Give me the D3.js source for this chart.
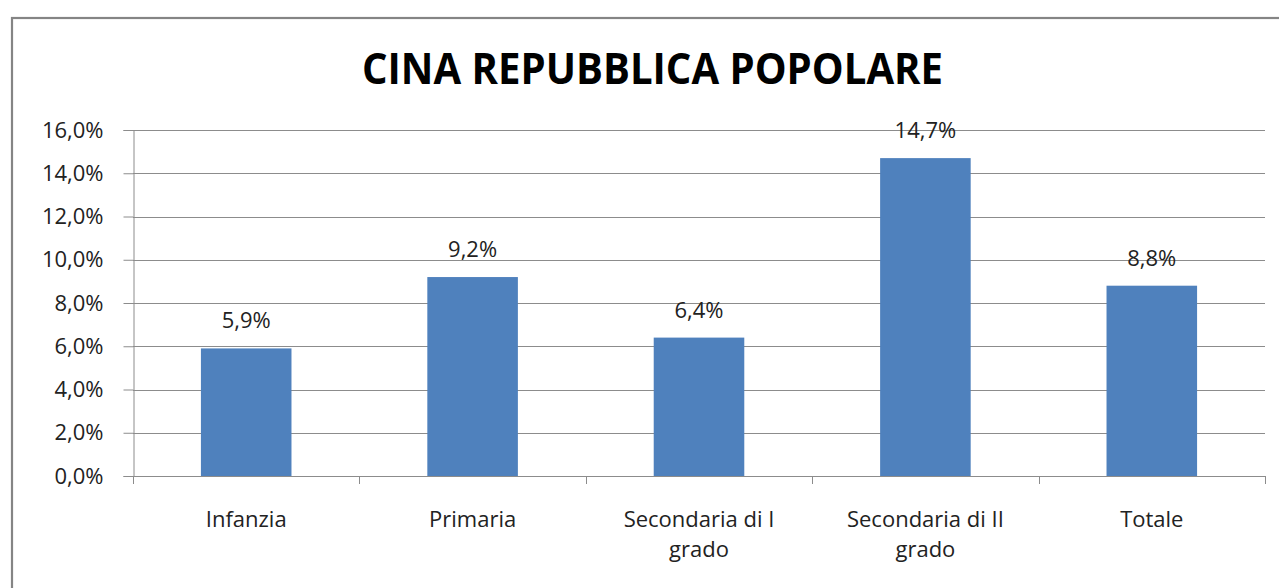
<!DOCTYPE html>
<html>
<head>
<meta charset="utf-8">
<script src="https://cdn.jsdelivr.net/npm/d3@7"></script>
<style>
    body { margin: 0; background: #fff; }
    svg { display: block; font-family: "Open Sans", "Liberation Sans", sans-serif; }
</style>
</head>
<body>
<div id="chart"></div>
<script>
// Data
var categories = ["Infanzia", "Primaria", "Secondaria di I grado", "Secondaria di II grado", "Totale"];
var values = [5.9, 9.2, 6.4, 14.7, 8.8];
var yTicks = [0, 2, 4, 6, 8, 10, 12, 14, 16];
var title = "CINA REPUBBLICA POPOLARE";

// Sizing
var width = 1279;
var height = 588;
var plot = { left: 133, right: 1265, top: 130, bottom: 476 };
var labelSize = 22;

var svg = d3.select("#chart")
    .append("svg")
    .attr("width", width)
    .attr("height", height);

// Chart frame (runs off the right and bottom edges)
svg.append("rect")
    .attr("x", 12)
    .attr("y", 18)
    .attr("width", 1320)
    .attr("height", 700)
    .attr("fill", "#fff")
    .attr("stroke", "#858585")
    .attr("stroke-width", 2.2);

// Title
svg.append("text")
    .attr("x", 362)
    .attr("y", 84)
    .attr("textLength", 581)
    .attr("lengthAdjust", "spacingAndGlyphs")
    .attr("font-size", 43)
    .attr("font-weight", "bold")
    .attr("fill", "#000")
    .text(title);

// Scales
var y = d3.scaleLinear()
    .domain([0, 16])
    .range([plot.bottom, plot.top]);

var xCat = d3.scaleBand()
    .domain(categories)
    .range([plot.left, plot.right])
    .padding(0);

var xBar = d3.scaleBand()
    .domain(categories)
    .range([plot.left, plot.right])
    .paddingInner(0.6)
    .paddingOuter(0.3);

var fmt = d => d.toFixed(1).replace(".", ",") + "%";

// Gridlines
svg.append("g")
    .selectAll("line")
    .data(yTicks)
    .enter()
    .append("line")
    .attr("x1", plot.left)
    .attr("x2", plot.right)
    .attr("y1", d => Math.round(y(d)) + 0.5)
    .attr("y2", d => Math.round(y(d)) + 0.5)
    .attr("stroke", "#8c8c8c")
    .attr("stroke-width", 1);

// Y axis
var yAxis = svg.append("g")
    .attr("transform", `translate(${plot.left + 0.5},0)`)
    .call(d3.axisLeft(y).tickValues(yTicks).tickFormat(fmt).tickSize(10).tickPadding(20));
yAxis.select(".domain").attr("stroke", "#8c8c8c");
yAxis.selectAll(".tick line").attr("stroke", "#8c8c8c");
yAxis.selectAll(".tick text")
    .attr("font-size", labelSize)
    .attr("font-family", "'Open Sans', sans-serif")
    .attr("fill", "#222");

// X axis ticks at category boundaries
var bounds = categories.map(c => xCat(c)).concat([plot.right]);
svg.append("g")
    .selectAll("line")
    .data(bounds)
    .enter()
    .append("line")
    .attr("x1", d => Math.round(d) + 0.5)
    .attr("x2", d => Math.round(d) + 0.5)
    .attr("y1", plot.bottom)
    .attr("y2", plot.bottom + 8)
    .attr("stroke", "#8c8c8c");

// Bars
svg.append("g")
    .selectAll("rect")
    .data(values)
    .enter()
    .append("rect")
    .attr("x", (d, i) => xBar(categories[i]))
    .attr("y", d => y(d))
    .attr("width", xBar.bandwidth())
    .attr("height", d => plot.bottom - y(d))
    .attr("fill", "#4f81bd");

// Value labels
svg.append("g")
    .selectAll("text")
    .data(values)
    .enter()
    .append("text")
    .attr("x", (d, i) => xCat(categories[i]) + xCat.bandwidth() / 2)
    .attr("y", d => y(d) - 20)
    .attr("text-anchor", "middle")
    .attr("font-size", labelSize)
    .attr("fill", "#222")
    .text(d => fmt(d));

// Category labels (wrapped)
var catLabels = svg.append("g")
    .selectAll("text")
    .data(categories)
    .enter()
    .append("text")
    .attr("x", d => xCat(d) + xCat.bandwidth() / 2)
    .attr("y", 527)
    .attr("text-anchor", "middle")
    .attr("font-size", labelSize)
    .attr("fill", "#222");

catLabels.each(function (d) {
    var el = d3.select(this);
    var words = d.split(" ");
    var lines = [];
    var line = [];
    var probe = el.append("tspan");
    words.forEach(function (w) {
        line.push(w);
        probe.text(line.join(" "));
        if (probe.node().getComputedTextLength() > 185 && line.length > 1) {
            line.pop();
            lines.push(line.join(" "));
            line = [w];
        }
    });
    lines.push(line.join(" "));
    probe.remove();
    lines.forEach(function (t, i) {
        el.append("tspan")
            .attr("x", el.attr("x"))
            .attr("dy", i === 0 ? 0 : 30)
            .text(t);
    });
});
</script>
</body>
</html>
